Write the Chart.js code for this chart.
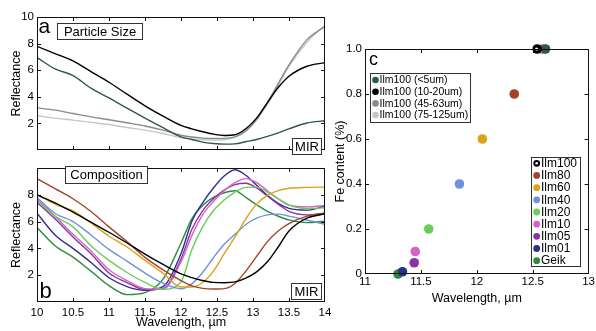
<!DOCTYPE html>
<html>
<head>
<meta charset="utf-8">
<script src="https://cdn.jsdelivr.net/npm/chart.js@4.4.0/dist/chart.umd.min.js"></script>
<style>
  html, body { margin: 0; padding: 0; background: #fff; width: 596px; height: 331px; overflow: hidden; }
  canvas { position: absolute; }
</style>
</head>
<body>
<canvas id="chartA" width="345" height="160" style="left:0;top:0"></canvas>
<canvas id="chartB" width="345" height="173" style="left:0;top:158px"></canvas>
<canvas id="chartC" width="266" height="331" style="left:330px;top:0"></canvas>
<script>
// wavelength grid (um) shared by panels a and b
const wavelength = [10, 10.25, 10.5, 10.75, 11, 11.25, 11.5, 11.75, 12, 12.15, 12.3, 12.45, 12.6, 12.75, 12.9, 13.05, 13.2, 13.35, 13.5, 13.75, 14];

// panel a - particle size
const sizeLabels = ["Ilm100 (<5um)", "Ilm100 (10-20um)", "Ilm100 (45-63um)", "Ilm100 (75-125um)"];
const size5 = [6.95, 6.1, 5.6, 4.65, 3.92, 3.15, 2.4, 1.68, 1.0, 0.8, 0.6, 0.5, 0.45, 0.47, 0.63, 0.8, 1.03, 1.3, 1.6, 2.04, 2.2];
const size10 = [7.8, 7.25, 6.7, 5.9, 5.1, 4.2, 3.33, 2.55, 1.85, 1.6, 1.38, 1.2, 1.1, 1.15, 1.6, 2.4, 3.57, 4.7, 5.55, 6.3, 6.57];
const size45 = [3.17, 3.0, 2.75, 2.5, 2.28, 2.05, 1.81, 1.5, 1.12, 0.98, 0.9, 0.87, 0.88, 1.0, 1.45, 2.3, 3.55, 5.0, 6.4, 8.3, 9.3];
const size75 = [2.58, 2.4, 2.25, 2.08, 1.92, 1.7, 1.5, 1.25, 0.94, 0.83, 0.78, 0.75, 0.78, 0.95, 1.4, 2.3, 3.45, 4.85, 6.3, 8.1, 9.4];
const sizeColors = ["#2f5558", "#000000", "#8a8a8a", "#c6c6c6"];

// panel b - composition
const compLabels = ["Ilm100", "Ilm80", "Ilm60", "Ilm40", "Ilm20", "Ilm10", "Ilm05", "Ilm01", "Geik"];
const compIlm100 = [7.98, 7.4, 6.7, 5.95, 5.2, 4.4, 3.57, 2.8, 2.1, 1.82, 1.6, 1.46, 1.44, 1.5, 1.78, 2.25, 3.0, 4.1, 5.3, 6.25, 6.57];
const compIlm80 = [9.2, 8.45, 7.7, 6.75, 5.6, 4.5, 3.33, 2.4, 1.6, 1.2, 1.02, 0.97, 1.0, 1.38, 2.3, 3.4, 4.5, 5.3, 5.85, 6.4, 6.62];
const compIlm60 = [8.03, 7.3, 6.8, 5.9, 4.9, 4.1, 3.1, 2.14, 1.12, 1.12, 1.45, 2.3, 3.6, 4.85, 6.2, 7.3, 7.95, 8.3, 8.48, 8.55, 8.57];
const compIlm40 = [7.8, 6.6, 6.0, 5.0, 3.92, 3.05, 2.16, 1.4, 0.99, 1.35, 2.2, 3.3, 4.3, 5.05, 5.78, 6.25, 6.5, 6.55, 6.4, 6.1, 5.8];
const compIlm20 = [7.56, 6.4, 5.6, 4.2, 3.1, 2.2, 1.46, 0.95, 1.5, 3.9, 5.6, 6.8, 7.6, 8.2, 8.55, 8.57, 8.2, 7.7, 7.22, 6.97, 7.02];
const compIlm10 = [7.68, 6.4, 5.05, 3.8, 2.4, 1.6, 1.0, 0.95, 3.0, 4.95, 6.5, 7.5, 8.3, 8.9, 9.2, 8.9, 8.3, 7.7, 7.22, 7.09, 7.2];
const compIlm05 = [7.44, 6.2, 4.85, 3.6, 2.16, 1.45, 0.92, 1.0, 3.2, 5.4, 6.8, 7.7, 8.35, 8.75, 8.85, 8.5, 7.9, 7.3, 6.76, 6.5, 6.62];
const compIlm01 = [6.62, 5.0, 4.0, 2.95, 1.81, 1.15, 0.87, 1.15, 3.6, 6.0, 7.4, 8.5, 9.4, 9.86, 9.45, 8.7, 7.95, 7.35, 6.98, 6.85, 7.14];
const compGeik = [5.56, 4.2, 3.35, 2.3, 1.22, 0.55, 0.7, 1.7, 4.4, 6.2, 7.2, 7.8, 8.15, 8.3, 7.8, 7.25, 6.75, 6.4, 6.12, 5.92, 6.03];
const compColors = ["#000000", "#a4432a", "#dda01c", "#6e90dd", "#6acd58", "#d861c8", "#8a33a6", "#2d2f8e", "#2b8c3c"];

// panel c - band minimum vs Fe content
const compBand = [12.535, 12.335, 12.05, 11.845, 11.57, 11.45, 11.44, 11.335, 11.295];
const compFe = [1.0, 0.8, 0.6, 0.4, 0.2, 0.1, 0.05, 0.01, 0.0];
const sizeBand = [12.615, 12.54, 12.585, 12.6];
const sizeFe = [1.0, 1.0, 1.0, 1.0];

const xTicksAB = [10.5, 11, 11.5, 12, 12.5, 13, 13.5];
const yTicksAB = [2, 4, 6, 8];
const xTicksC = [11.5, 12, 12.5];
const yTicksC = [0.2, 0.4, 0.6, 0.8];

Chart.defaults.font.family = "'Liberation Sans', Arial, Helvetica, sans-serif";
Chart.defaults.color = "#000";
Chart.defaults.animation = false;
Chart.defaults.plugins.legend.display = false;
Chart.defaults.plugins.tooltip.enabled = false;

const FONT = "'Liberation Sans', Arial, Helvetica, sans-serif";
const noGrid = { display: false, drawTicks: false, tickLength: 0 };

// box around plot + inward tick marks on all four sides
const framePlugin = {
  id: "frame",
  afterDatasetsDraw(chart, args, opts) {
    const { ctx, chartArea: a, scales } = chart;
    ctx.save();
    ctx.strokeStyle = "#111";
    ctx.lineWidth = 1;
    ctx.strokeRect(Math.round(a.left) + 0.5, Math.round(a.top) + 0.5, Math.round(a.right - a.left) - 1, Math.round(a.bottom - a.top) - 1);
    ctx.beginPath();
    opts.xTicks.forEach((v) => {
      const px = Math.round(scales.x.getPixelForValue(v)) + 0.5;
      ctx.moveTo(px, a.top); ctx.lineTo(px, a.top + 4);
      ctx.moveTo(px, a.bottom); ctx.lineTo(px, a.bottom - 4);
    });
    opts.yTicks.forEach((v) => {
      const py = Math.round(scales.y.getPixelForValue(v)) + 0.5;
      ctx.moveTo(a.left, py); ctx.lineTo(a.left + 4, py);
      ctx.moveTo(a.right, py); ctx.lineTo(a.right - 4, py);
    });
    ctx.stroke();
    ctx.restore();
  },
};

// panel letters and boxed labels
const notesPlugin = {
  id: "notes",
  afterDraw(chart, args, opts) {
    const ctx = chart.ctx;
    (opts.items || []).forEach((it) => {
      ctx.save();
      ctx.font = it.size + "px " + FONT;
      ctx.fillStyle = "#000";
      if (it.w) {
        ctx.fillStyle = "#fff";
        ctx.fillRect(it.x, it.y, it.w, it.h);
        ctx.strokeStyle = "#333";
        ctx.lineWidth = 1;
        ctx.strokeRect(it.x + 0.5, it.y + 0.5, it.w - 1, it.h - 1);
        ctx.fillStyle = "#000";
        ctx.textAlign = "center";
        ctx.textBaseline = "middle";
        ctx.fillText(it.text, it.x + it.w / 2, it.y + it.h / 2 + 0.5);
      } else {
        ctx.textAlign = "left";
        ctx.textBaseline = "alphabetic";
        ctx.fillText(it.text, it.x, it.y);
      }
      ctx.restore();
    });
  },
};

// the two legend boxes of panel c
const legendBoxPlugin = {
  id: "legendBoxes",
  afterDraw(chart, args, opts) {
    const ctx = chart.ctx;
    opts.boxes.forEach((b) => {
      ctx.save();
      ctx.fillStyle = "#fff";
      ctx.fillRect(b.x, b.y, b.w, b.h);
      ctx.strokeStyle = "#333";
      ctx.lineWidth = 1;
      ctx.strokeRect(b.x + 0.5, b.y + 0.5, b.w - 1, b.h - 1);
      ctx.font = b.size + "px " + FONT;
      ctx.textBaseline = "middle";
      b.labels.forEach((lab, i) => {
        const cy = b.y + b.first + i * b.step;
        ctx.beginPath();
        ctx.arc(b.x + b.mx, cy, b.r, 0, Math.PI * 2);
        ctx.fillStyle = b.colors[i];
        ctx.fill();
        if (b.hollow && b.hollow[i]) {
          ctx.beginPath();
          ctx.arc(b.x + b.mx, cy, 1.3, 0, Math.PI * 2);
          ctx.fillStyle = "#fff";
          ctx.fill();
        }
        ctx.fillStyle = "#000";
        ctx.fillText(lab, b.x + b.tx, cy + 0.5);
      });
      ctx.restore();
    });
  },
};

function spectraChart(id, series, labels, colors, cfg) {
  return new Chart(document.getElementById(id), {
    type: "line",
    data: {
      datasets: series.map((s, i) => ({
        label: labels[i],
        data: wavelength.map((w, j) => ({ x: w, y: s[j] })),
        borderColor: colors[i],
        borderWidth: 1.4,
        pointRadius: 0,
        fill: false,
        cubicInterpolationMode: "monotone",
      })),
    },
    options: {
      responsive: false,
      layout: { autoPadding: false, padding: { top: cfg.top, right: 20, left: 0, bottom: 0 } },
      scales: {
        x: {
          type: "linear", min: 10, max: 14,
          ticks: { stepSize: 0.5, display: cfg.xLabels, padding: 4, font: { size: 11.5 }, callback: (v) => String(v) },
          grid: noGrid, border: { display: false },
          title: { display: cfg.xLabels, text: "Wavelength, \u00b5m", font: { size: 12.5 }, padding: { top: 0, bottom: 0.7 } },
          afterFit: (s) => { s.height = cfg.xHeight; },
        },
        y: {
          min: 0, max: 10,
          ticks: { stepSize: 2, padding: 3, font: { size: 11.5 }, callback: (v) => (cfg.hideTicks.includes(v) ? "" : String(v)) },
          grid: noGrid, border: { display: false },
          title: { display: true, text: "Reflectance", font: { size: 12.5 }, padding: { top: 9.2, bottom: 0 } },
          afterFit: (s) => { s.width = 37; },
        },
      },
      plugins: {
        frame: { xTicks: xTicksAB, yTicks: yTicksAB },
        notes: { items: cfg.notes },
      },
    },
    plugins: [framePlugin, notesPlugin],
  });
}

spectraChart("chartA", [size5, size10, size45, size75], sizeLabels, sizeColors, {
  top: 17, xHeight: 2, xLabels: false, hideTicks: [0],
  notes: [
    { text: "a", x: 38.5, y: 33, size: 21 },
    { text: "Particle Size", x: 57, y: 23, w: 86, h: 17, size: 13 },
    { text: "MIR", x: 292, y: 138, w: 30, h: 17, size: 13 },
  ],
});

spectraChart("chartB", [compIlm100, compIlm80, compIlm60, compIlm40, compIlm20, compIlm10, compIlm05, compIlm01, compGeik], compLabels, compColors, {
  top: 2, xHeight: 29, xLabels: true, hideTicks: [0, 10],
  notes: [
    { text: "b", x: 39.5, y: 140, size: 22 },
    { text: "Composition", x: 65, y: 8, w: 83, h: 18, size: 13 },
    { text: "MIR", x: 291, y: 125, w: 31, h: 17, size: 13 },
  ],
});

// panel c datasets: composition series, then particle-size series
const cDatasets = [];
cDatasets.push({
  label: "Ilm100", data: [{ x: compBand[0], y: compFe[0] }],
  backgroundColor: "#fff", borderColor: "#000", borderWidth: 2.2, pointRadius: 2.6, order: 0,
});
sizeLabels.forEach((lab, i) => {
  cDatasets.push({
    label: lab, data: [{ x: sizeBand[i], y: sizeFe[i] }],
    backgroundColor: sizeColors[i], borderColor: sizeColors[i], borderWidth: 0, pointRadius: 4.8,
    order: i === 1 ? 1 : i === 0 ? 2 : 3,
  });
});
compLabels.forEach((lab, i) => {
  if (i === 0) return;
  cDatasets.push({
    label: lab, data: [{ x: compBand[i], y: compFe[i] }],
    backgroundColor: compColors[i], borderColor: compColors[i], borderWidth: 0, pointRadius: 4.8, order: 4,
  });
});

new Chart(document.getElementById("chartC"), {
  type: "scatter",
  data: { datasets: cDatasets.map((d) => Object.assign({ clip: false, pointHoverRadius: d.pointRadius }, d)) },
  options: {
    responsive: false,
    layout: { autoPadding: false, padding: { top: 49, right: 5, left: 0, bottom: 0 } },
    scales: {
      x: {
        type: "linear", min: 11, max: 13,
        ticks: { stepSize: 0.5, padding: 1, font: { size: 11.5 }, callback: (v) => String(v) },
        grid: noGrid, border: { display: false },
        title: { display: true, text: "Wavelength, \u00b5m", font: { size: 12.5 }, padding: { top: 0, bottom: 24.5 } },
        afterFit: (s) => { s.height = 57; },
      },
      y: {
        min: 0, max: 1,
        ticks: { stepSize: 0.2, padding: 3, font: { size: 11.5 }, callback: (v) => (v === 0 ? "0" : v.toFixed(1)) },
        grid: noGrid, border: { display: false },
        title: { display: true, text: "Fe content (%)", font: { size: 12.5 }, padding: { top: 3.5, bottom: 0 } },
        afterFit: (s) => { s.width = 35; },
      },
    },
    plugins: {
      frame: { xTicks: xTicksC, yTicks: yTicksC },
      notes: { items: [{ text: "c", x: 39, y: 65, size: 18 }] },
      legendBoxes: {
        boxes: [
          { x: 40, y: 73, w: 101, h: 50, first: 7, step: 11.7, mx: 5.5, tx: 9.5, r: 3.3, size: 10.5,
            labels: sizeLabels, colors: sizeColors },
          { x: 201, y: 157, w: 50, h: 110, first: 6.3, step: 12.17, mx: 5.7, tx: 10, r: 3.4, size: 12,
            labels: compLabels, colors: compColors, hollow: [true] },
        ],
      },
    },
  },
  plugins: [framePlugin, notesPlugin, legendBoxPlugin],
});
</script>
</body>
</html>
